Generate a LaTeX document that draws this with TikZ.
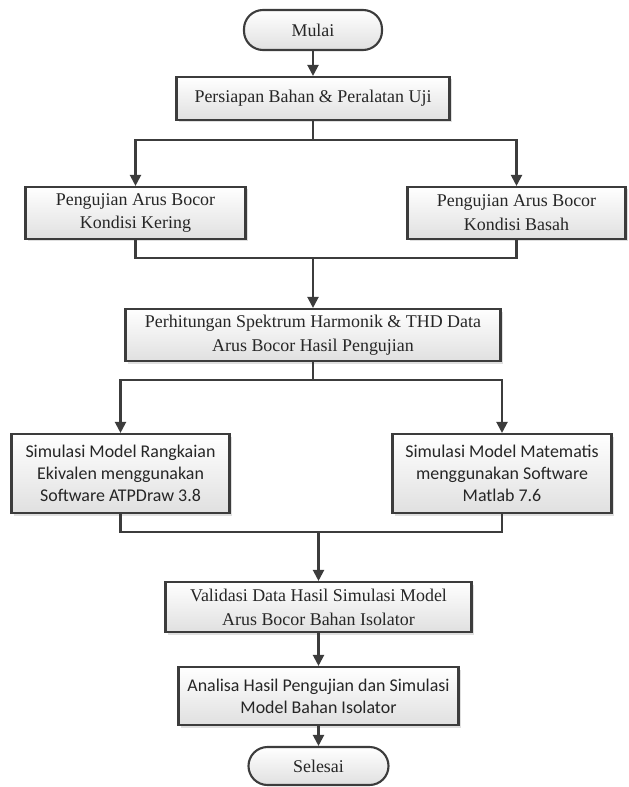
\documentclass[tikz,border=0pt]{standalone}
\usepackage{fontspec}
\setmainfont{Liberation Serif}
\newfontfamily\timesface{Liberation Serif}
\newfontfamily\carlitoface{Carlito}
\usetikzlibrary{arrows.meta,shadows}
\definecolor{LineGrey}{RGB}{60, 60, 60}
\definecolor{BoxBottom}{RGB}{224, 224, 224}

\begin{document}
\begin{tikzpicture}[font=\timesface\fontsize{10.2}{13.6}\selectfont]
\tikzstyle{block} = [rectangle, draw=LineGrey, line width=1.2pt, align=center,
    top color=white, bottom color=BoxBottom, text=black!85,
    font=\timesface\fontsize{10.2}{13.6}\selectfont,
    drop shadow={shadow xshift=0.05cm, shadow yshift=-0.05cm, fill=black!25}]
\tikzstyle{term} = [rectangle, draw=LineGrey, line width=1.2pt, rounded corners=0.38cm,
    top color=white, bottom color=BoxBottom, text=black!85]
\tikzstyle{sans} = [font=\carlitoface\fontsize{10.2}{12.35}\selectfont]
\tikzstyle{line} = [draw=LineGrey, line width=1.2pt, -]
\tikzstyle{arrow} = [line, -{Triangle[length=0.22cm, width=0.22cm]}]

\useasboundingbox (0,0) rectangle (12.56,-15.74);

\node [term, minimum width=2.76cm, minimum height=0.8cm] (mulai) at (6.26,-0.6) {Mulai};
\node [block, below of=mulai, node distance=1.37cm, minimum width=5.46cm, minimum height=0.86cm] (prep) {Persiapan Bahan \& Peralatan Uji};
\path [arrow] (mulai) -- (prep);
%
\coordinate [below of=prep, node distance=0.83cm] (split1);
\coordinate [below of=prep, node distance=2.29cm] (row1);
\node [block, left of=row1, node distance=3.55cm, minimum width=4.4cm, minimum height=1.04cm] (kering) {Pengujian Arus Bocor\\Kondisi Kering};
\node [block, right of=row1, node distance=4.07cm, minimum width=4.36cm, minimum height=1.04cm] (basah) {Pengujian Arus Bocor\\Kondisi Basah};
\path [line] (prep) -- (split1);
\path [arrow] (split1) -| (kering);
\path [arrow] (split1) -| (basah);
%
\coordinate [below of=row1, node distance=0.9cm] (join1);
\node [block, below of=join1, node distance=1.54cm, minimum width=7.5cm, minimum height=1.04cm] (hitung) {Perhitungan Spektrum Harmonik \& THD Data\\Arus Bocor Hasil Pengujian};
\path [line] (kering) |- (join1);
\path [line] (basah) |- (join1);
\path [arrow] (join1) -- (hitung);
%
\coordinate [below of=hitung, node distance=0.9cm] (split2);
\coordinate [below of=hitung, node distance=2.77cm] (row2);
\node [block, sans, left of=row2, node distance=3.85cm, minimum width=4.36cm, minimum height=1.58cm] (simkiri) {Simulasi Model Rangkaian\\Ekivalen menggunakan\\Software ATPDraw 3.8};
\node [block, sans, right of=row2, node distance=3.78cm, minimum width=4.38cm, minimum height=1.58cm] (simkanan) {Simulasi Model Matematis\\menggunakan Software\\Matlab 7.6};
\path [line] (hitung) -- (split2);
\path [arrow] (split2) -| (simkiri);
\path [arrow] (split2) -| (simkanan);
%
\coordinate [below of=row2, node distance=1.17cm] (join2);
\node [block, below of=join2, node distance=1.5cm, xshift=0.11cm, minimum width=6.12cm, minimum height=1cm] (valid) {Validasi Data Hasil Simulasi Model\\Arus Bocor Bahan Isolator};
\path [line] (simkiri) |- (join2);
\path [line] (simkanan) |- (join2);
\path [arrow] (valid |- join2) -- (valid);
%
\node [block, sans, below of=valid, node distance=1.78cm, minimum width=5.6cm, minimum height=1.16cm] (analisa) {Analisa Hasil Pengujian dan Simulasi\\Model Bahan Isolator};
\path [arrow] (valid) -- (analisa);
\node [term, below of=analisa, node distance=1.4cm, minimum width=2.8cm, minimum height=0.76cm] (selesai) {Selesai};
\path [arrow] (analisa) -- (selesai);

\end{tikzpicture}
\end{document}
